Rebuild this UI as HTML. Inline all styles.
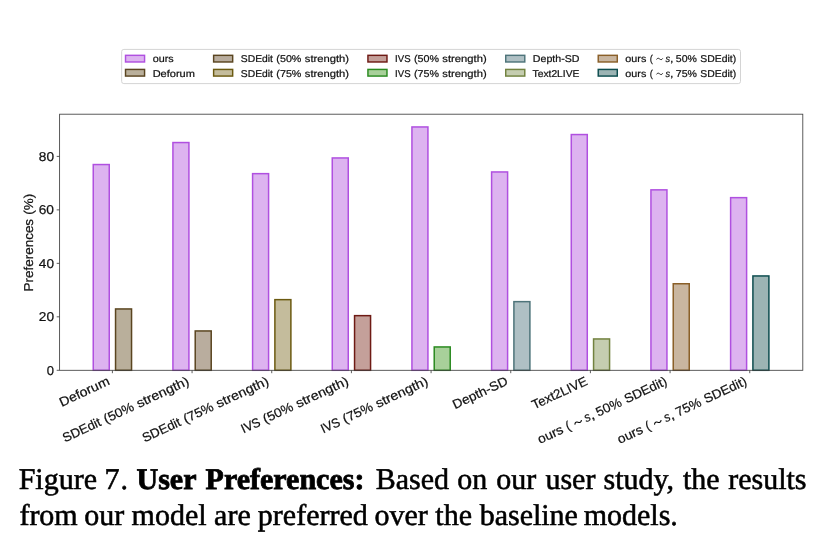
<!DOCTYPE html><html><head><meta charset="utf-8"><style>html,body{margin:0;padding:0;background:#fff}svg{display:block;will-change:transform}text{font-family:"Liberation Sans",sans-serif;fill:#111;text-rendering:geometricPrecision;stroke:#111;stroke-width:0.22px}.cap text{font-family:"Liberation Serif",serif;fill:#000;stroke:#000;stroke-width:.55px}.cap text.b{font-weight:bold;stroke-width:.8px}</style></head><body>
<svg width="824" height="554" viewBox="0 0 824 554">
<rect width="824" height="554" fill="#fff"/>
<rect x="93.25" y="164.55" width="16.00" height="205.75" fill="#ddb3f0" stroke="#b050e0" stroke-width="1.5"/>
<rect x="115.55" y="308.95" width="16.00" height="61.35" fill="#b9af9b" stroke="#5a4520" stroke-width="1.5"/>
<rect x="172.92" y="142.55" width="16.00" height="227.75" fill="#ddb3f0" stroke="#b050e0" stroke-width="1.5"/>
<rect x="195.22" y="330.95" width="16.00" height="39.35" fill="#b9ad9e" stroke="#5a4520" stroke-width="1.5"/>
<rect x="252.59" y="173.65" width="16.00" height="196.65" fill="#ddb3f0" stroke="#b050e0" stroke-width="1.5"/>
<rect x="274.89" y="299.65" width="16.00" height="70.65" fill="#c4bc9c" stroke="#6b5a10" stroke-width="1.5"/>
<rect x="332.26" y="157.95" width="16.00" height="212.35" fill="#ddb3f0" stroke="#b050e0" stroke-width="1.5"/>
<rect x="354.56" y="315.65" width="16.00" height="54.65" fill="#c4a09a" stroke="#6e1a14" stroke-width="1.5"/>
<rect x="411.93" y="126.95" width="16.00" height="243.35" fill="#ddb3f0" stroke="#b050e0" stroke-width="1.5"/>
<rect x="434.23" y="346.95" width="16.00" height="23.35" fill="#a8d09a" stroke="#2a8a20" stroke-width="1.5"/>
<rect x="491.60" y="171.95" width="16.00" height="198.35" fill="#ddb3f0" stroke="#b050e0" stroke-width="1.5"/>
<rect x="513.90" y="301.65" width="16.00" height="68.65" fill="#afc0c4" stroke="#4e747a" stroke-width="1.5"/>
<rect x="571.27" y="134.55" width="16.00" height="235.75" fill="#ddb3f0" stroke="#b050e0" stroke-width="1.5"/>
<rect x="593.57" y="338.95" width="16.00" height="31.35" fill="#c5cdb0" stroke="#72823f" stroke-width="1.5"/>
<rect x="650.94" y="189.85" width="16.00" height="180.45" fill="#ddb3f0" stroke="#b050e0" stroke-width="1.5"/>
<rect x="673.24" y="283.75" width="16.00" height="86.55" fill="#c9b6a0" stroke="#8a5f28" stroke-width="1.5"/>
<rect x="730.61" y="197.65" width="16.00" height="172.65" fill="#ddb3f0" stroke="#b050e0" stroke-width="1.5"/>
<rect x="752.91" y="275.95" width="16.00" height="94.35" fill="#9cb4b4" stroke="#0d4d4f" stroke-width="1.5"/>
<rect x="59.6" y="114.2" width="743.20" height="256.10" fill="none" stroke="#404040" stroke-width="0.85"/>
<g font-size="12.9">
<line x1="56.70" x2="59.6" y1="370.30" y2="370.30" stroke="#404040" stroke-width="0.85"/>
<text x="46.74" y="374.85" textLength="7.25" lengthAdjust="spacingAndGlyphs">0</text>
<line x1="56.70" x2="59.6" y1="316.82" y2="316.82" stroke="#404040" stroke-width="0.85"/>
<text x="38.78" y="321.38" textLength="15.24" lengthAdjust="spacingAndGlyphs">20</text>
<line x1="56.70" x2="59.6" y1="263.35" y2="263.35" stroke="#404040" stroke-width="0.85"/>
<text x="38.85" y="267.90" textLength="15.16" lengthAdjust="spacingAndGlyphs">40</text>
<line x1="56.70" x2="59.6" y1="209.88" y2="209.88" stroke="#404040" stroke-width="0.85"/>
<text x="38.73" y="214.43" textLength="15.29" lengthAdjust="spacingAndGlyphs">60</text>
<line x1="56.70" x2="59.6" y1="156.40" y2="156.40" stroke="#404040" stroke-width="0.85"/>
<text x="38.80" y="160.95" textLength="15.21" lengthAdjust="spacingAndGlyphs">80</text>
<g transform="translate(33.2,242.5) rotate(-90)"><text x="-48.93" y="0.00" textLength="72.52" lengthAdjust="spacingAndGlyphs">Preferences</text><text x="27.87" y="0.00" textLength="20.95" lengthAdjust="spacingAndGlyphs">(%)</text></g>
<line x1="112.40" x2="112.40" y1="370.3" y2="373.20" stroke="#404040" stroke-width="0.85"/>
<g transform="translate(110.60,384.10) rotate(-25)"><text x="-53.97" y="0.00" textLength="53.85" lengthAdjust="spacingAndGlyphs">Deforum</text></g>
<line x1="192.07" x2="192.07" y1="370.3" y2="373.20" stroke="#404040" stroke-width="0.85"/>
<g transform="translate(190.27,384.10) rotate(-25)"><text x="-138.23" y="0.00" textLength="40.91" lengthAdjust="spacingAndGlyphs">SDEdit</text><text x="-92.97" y="0.00" textLength="31.91" lengthAdjust="spacingAndGlyphs">(50%</text><text x="-56.66" y="0.00" textLength="56.48" lengthAdjust="spacingAndGlyphs">strength)</text></g>
<line x1="271.74" x2="271.74" y1="370.3" y2="373.20" stroke="#404040" stroke-width="0.85"/>
<g transform="translate(269.94,384.10) rotate(-25)"><text x="-138.23" y="0.00" textLength="40.91" lengthAdjust="spacingAndGlyphs">SDEdit</text><text x="-92.97" y="0.00" textLength="31.91" lengthAdjust="spacingAndGlyphs">(75%</text><text x="-56.66" y="0.00" textLength="56.48" lengthAdjust="spacingAndGlyphs">strength)</text></g>
<line x1="351.41" x2="351.41" y1="370.3" y2="373.20" stroke="#404040" stroke-width="0.85"/>
<g transform="translate(349.61,384.10) rotate(-25)"><text x="-116.99" y="0.00" textLength="19.75" lengthAdjust="spacingAndGlyphs">IVS</text><text x="-92.97" y="0.00" textLength="31.91" lengthAdjust="spacingAndGlyphs">(50%</text><text x="-56.66" y="0.00" textLength="56.48" lengthAdjust="spacingAndGlyphs">strength)</text></g>
<line x1="431.08" x2="431.08" y1="370.3" y2="373.20" stroke="#404040" stroke-width="0.85"/>
<g transform="translate(429.28,384.10) rotate(-25)"><text x="-116.99" y="0.00" textLength="19.75" lengthAdjust="spacingAndGlyphs">IVS</text><text x="-92.97" y="0.00" textLength="31.91" lengthAdjust="spacingAndGlyphs">(75%</text><text x="-56.66" y="0.00" textLength="56.48" lengthAdjust="spacingAndGlyphs">strength)</text></g>
<line x1="510.75" x2="510.75" y1="370.3" y2="373.20" stroke="#404040" stroke-width="0.85"/>
<g transform="translate(508.95,384.10) rotate(-25)"><text x="-59.41" y="0.00" textLength="59.33" lengthAdjust="spacingAndGlyphs">Depth-SD</text></g>
<line x1="590.42" x2="590.42" y1="370.3" y2="373.20" stroke="#404040" stroke-width="0.85"/>
<g transform="translate(588.62,384.10) rotate(-25)"><text x="-60.04" y="0.00" textLength="59.81" lengthAdjust="spacingAndGlyphs">Text2LIVE</text></g>
<line x1="670.09" x2="670.09" y1="370.3" y2="373.20" stroke="#404040" stroke-width="0.85"/>
<g transform="translate(668.29,384.10) rotate(-25)"><text x="-141.53" y="0.00" textLength="26.73" lengthAdjust="spacingAndGlyphs">ours</text><text x="-110.65" y="0.00" textLength="4.00" lengthAdjust="spacingAndGlyphs">(</text><path d="M-101.81,-2.78 C-100.62,-5.11 -99.03,-4.61 -97.85,-3.53 S-95.08,-1.94 -93.89,-4.27" fill="none" stroke="#000" stroke-width="1.05"/><text x="-90.55" y="0.00" font-style="italic" textLength="6.00" lengthAdjust="spacingAndGlyphs">s</text><text x="-84.75" y="0.00" textLength="4.48" lengthAdjust="spacingAndGlyphs">,</text><text x="-77.18" y="0.00" textLength="26.87" lengthAdjust="spacingAndGlyphs">50%</text><text x="-45.96" y="0.00" textLength="45.70" lengthAdjust="spacingAndGlyphs">SDEdit)</text></g>
<line x1="749.76" x2="749.76" y1="370.3" y2="373.20" stroke="#404040" stroke-width="0.85"/>
<g transform="translate(747.96,384.10) rotate(-25)"><text x="-141.53" y="0.00" textLength="26.73" lengthAdjust="spacingAndGlyphs">ours</text><text x="-110.65" y="0.00" textLength="4.00" lengthAdjust="spacingAndGlyphs">(</text><path d="M-101.81,-2.78 C-100.62,-5.11 -99.03,-4.61 -97.85,-3.53 S-95.08,-1.94 -93.89,-4.27" fill="none" stroke="#000" stroke-width="1.05"/><text x="-90.55" y="0.00" font-style="italic" textLength="6.00" lengthAdjust="spacingAndGlyphs">s</text><text x="-84.75" y="0.00" textLength="4.48" lengthAdjust="spacingAndGlyphs">,</text><text x="-77.28" y="0.00" textLength="26.97" lengthAdjust="spacingAndGlyphs">75%</text><text x="-45.96" y="0.00" textLength="45.70" lengthAdjust="spacingAndGlyphs">SDEdit)</text></g>
</g>
<rect x="121.65" y="49.4" width="618.85" height="34.2" rx="2.2" ry="2.2" fill="#fff" stroke="#d4d4d4" stroke-width="1"/>
<g font-size="9.9">
<rect x="125.52" y="55.33" width="19.05" height="6.65" fill="#ddb3f0" stroke="#b050e0" stroke-width="1.45"/>
<text x="152.68" y="61.70" textLength="20.96" lengthAdjust="spacingAndGlyphs">ours</text>
<rect x="125.52" y="69.42" width="19.05" height="6.65" fill="#b9af9b" stroke="#5a4520" stroke-width="1.45"/>
<text x="152.65" y="76.60" textLength="42.22" lengthAdjust="spacingAndGlyphs">Deforum</text>
<rect x="213.62" y="55.33" width="19.05" height="6.65" fill="#b9ad9e" stroke="#5a4520" stroke-width="1.45"/>
<text x="240.87" y="61.70" textLength="32.08" lengthAdjust="spacingAndGlyphs">SDEdit</text><text x="276.36" y="61.70" textLength="25.02" lengthAdjust="spacingAndGlyphs">(50%</text><text x="304.84" y="61.70" textLength="44.29" lengthAdjust="spacingAndGlyphs">strength)</text>
<rect x="213.62" y="69.42" width="19.05" height="6.65" fill="#c4bc9c" stroke="#6b5a10" stroke-width="1.45"/>
<text x="240.87" y="76.60" textLength="32.08" lengthAdjust="spacingAndGlyphs">SDEdit</text><text x="276.36" y="76.60" textLength="25.02" lengthAdjust="spacingAndGlyphs">(75%</text><text x="304.84" y="76.60" textLength="44.29" lengthAdjust="spacingAndGlyphs">strength)</text>
<rect x="367.93" y="55.33" width="19.05" height="6.65" fill="#c4a09a" stroke="#6e1a14" stroke-width="1.45"/>
<text x="395.07" y="61.70" textLength="15.49" lengthAdjust="spacingAndGlyphs">IVS</text><text x="413.91" y="61.70" textLength="25.02" lengthAdjust="spacingAndGlyphs">(50%</text><text x="442.38" y="61.70" textLength="44.29" lengthAdjust="spacingAndGlyphs">strength)</text>
<rect x="367.93" y="69.42" width="19.05" height="6.65" fill="#a8d09a" stroke="#2a8a20" stroke-width="1.45"/>
<text x="395.07" y="76.60" textLength="15.49" lengthAdjust="spacingAndGlyphs">IVS</text><text x="413.91" y="76.60" textLength="25.02" lengthAdjust="spacingAndGlyphs">(75%</text><text x="442.38" y="76.60" textLength="44.29" lengthAdjust="spacingAndGlyphs">strength)</text>
<rect x="505.73" y="55.33" width="19.05" height="6.65" fill="#afc0c4" stroke="#4e747a" stroke-width="1.45"/>
<text x="532.88" y="61.70" textLength="46.52" lengthAdjust="spacingAndGlyphs">Depth-SD</text>
<rect x="505.73" y="69.42" width="19.05" height="6.65" fill="#c5cdb0" stroke="#72823f" stroke-width="1.45"/>
<text x="532.54" y="76.60" textLength="46.90" lengthAdjust="spacingAndGlyphs">Text2LIVE</text>
<rect x="598.23" y="55.33" width="19.05" height="6.65" fill="#c9b6a0" stroke="#8a5f28" stroke-width="1.45"/>
<text x="625.38" y="61.70" textLength="20.96" lengthAdjust="spacingAndGlyphs">ours</text><text x="649.64" y="61.70" textLength="3.07" lengthAdjust="spacingAndGlyphs">(</text><path d="M656.53,59.52 C657.47,57.69 658.71,58.08 659.64,58.94 S661.81,60.18 662.74,58.35" fill="none" stroke="#000" stroke-width="0.82"/><text x="665.40" y="61.70" font-style="italic" textLength="4.60" lengthAdjust="spacingAndGlyphs">s</text><text x="669.94" y="61.70" textLength="3.44" lengthAdjust="spacingAndGlyphs">,</text><text x="675.84" y="61.70" textLength="21.07" lengthAdjust="spacingAndGlyphs">50%</text><text x="700.32" y="61.70" textLength="35.84" lengthAdjust="spacingAndGlyphs">SDEdit)</text>
<rect x="598.23" y="69.42" width="19.05" height="6.65" fill="#9cb4b4" stroke="#0d4d4f" stroke-width="1.45"/>
<text x="625.38" y="76.60" textLength="20.96" lengthAdjust="spacingAndGlyphs">ours</text><text x="649.64" y="76.60" textLength="3.07" lengthAdjust="spacingAndGlyphs">(</text><path d="M656.53,74.42 C657.47,72.59 658.71,72.98 659.64,73.84 S661.81,75.08 662.74,73.25" fill="none" stroke="#000" stroke-width="0.82"/><text x="665.40" y="76.60" font-style="italic" textLength="4.60" lengthAdjust="spacingAndGlyphs">s</text><text x="669.94" y="76.60" textLength="3.44" lengthAdjust="spacingAndGlyphs">,</text><text x="675.77" y="76.60" textLength="21.15" lengthAdjust="spacingAndGlyphs">75%</text><text x="700.32" y="76.60" textLength="35.84" lengthAdjust="spacingAndGlyphs">SDEdit)</text>
</g>
<g class="cap" font-size="30" stroke="#000" stroke-width="0.55"><text x="18.70" y="488.6">Figure</text><text x="104.50" y="488.6">7</text><text x="120.40" y="488.6">.</text><text x="136.50" y="488.6" class="b">User</text><text x="205.60" y="488.6" class="b">Preferences:</text><text x="375.70" y="488.6">Based</text><text x="457.20" y="488.6">on</text><text x="496.25" y="488.6">our</text><text x="545.45" y="488.6">user</text><text x="603.50" y="488.6">study,</text><text x="683.00" y="488.6">the</text><text x="728.20" y="488.6">results</text><text x="19.40" y="524.65">from</text><text x="84.35" y="524.65">our</text><text x="131.60" y="524.65">model</text><text x="214.10" y="524.65">are</text><text x="257.85" y="524.65">preferred</text><text x="374.55" y="524.65">over</text><text x="435.35" y="524.65">the</text><text x="479.65" y="524.65">baseline</text><text x="583.70" y="524.65">models.</text></g>
</svg></body></html>
